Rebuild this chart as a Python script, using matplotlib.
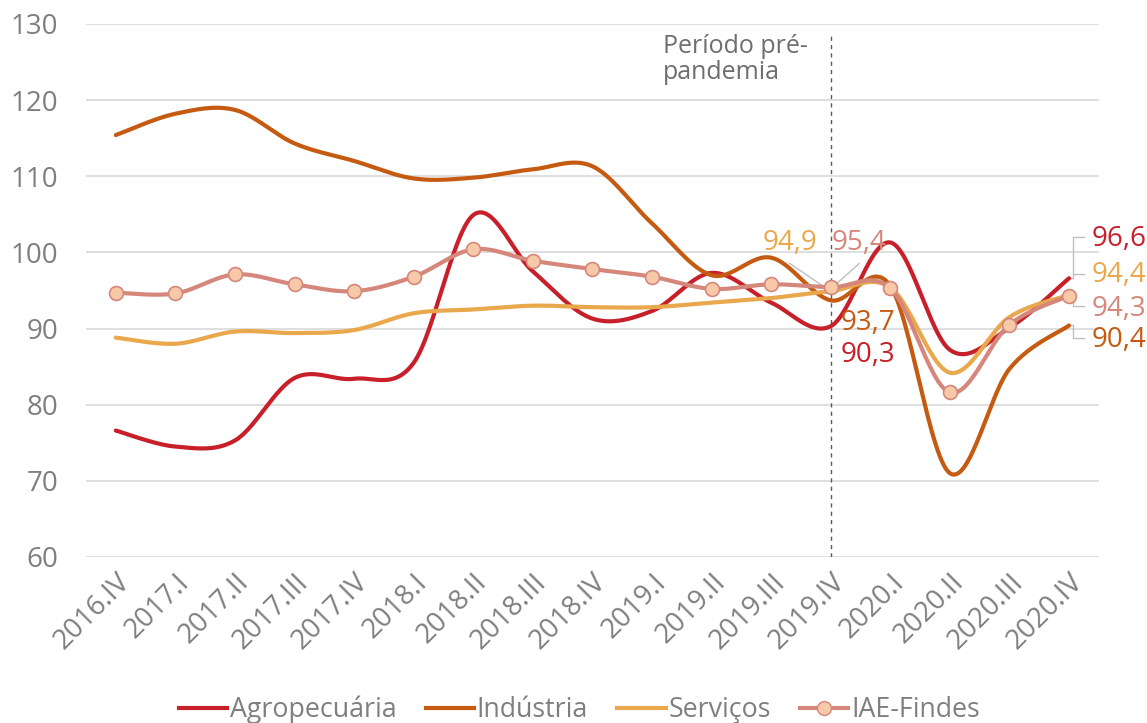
import numpy as np
import matplotlib.pyplot as plt
from matplotlib.lines import Line2D

plt.rcParams['font.family'] = ['Open Sans', 'DejaVu Sans']

# Dados
trimestres = ["2016.IV", "2017.I", "2017.II", "2017.III", "2017.IV", "2018.I", "2018.II",
              "2018.III", "2018.IV", "2019.I", "2019.II", "2019.III", "2019.IV", "2020.I",
              "2020.II", "2020.III", "2020.IV"]
agropecuaria = [76.6, 74.5, 75.3, 83.5, 83.4, 85.5, 104.9, 97.5, 91.3, 92.3, 97.3, 93.4,
                90.3, 101.3, 87.2, 90.1, 96.6]
industria = [115.4, 118.2, 118.7, 114.3, 112.0, 109.7, 109.8, 110.9, 111.3, 103.8, 97.0,
             99.3, 93.7, 95.6, 71.0, 84.7, 90.4]
servicos = [88.8, 88.0, 89.6, 89.4, 89.8, 92.0, 92.5, 93.0, 92.8, 92.8, 93.4, 94.0,
            94.9, 95.4, 84.2, 91.5, 94.4]
iae_findes = [94.7, 94.6, 97.1, 95.8, 94.9, 96.8, 100.4, 98.9, 97.8, 96.8, 95.2, 95.8,
              95.4, 95.3, 81.6, 90.5, 94.3]

c_agro = "#C8202A"
c_ind = "#C55A11"
c_serv = "#E9A84C"
c_iae = "#D4877A"
c_mark = "#F8C9A8"
cinza = "#7F7F7F"
guia = "#BFBFBF"
fs = 20


def suavizar(y, n=30):
    # curva suave estilo Excel (Bezier com pontos de controle 1/6)
    y = np.asarray(y, dtype=float)
    x = np.arange(len(y), dtype=float)
    pts = np.column_stack([x, y])
    out = []
    for i in range(len(pts) - 1):
        p0 = pts[i - 1] if i > 0 else pts[i]
        p1 = pts[i]
        p2 = pts[i + 1]
        p3 = pts[i + 2] if i + 2 < len(pts) else pts[i + 1]
        c1 = p1 + (p2 - p0) / 6
        c2 = p2 - (p3 - p1) / 6
        t = np.linspace(0, 1, n)[:, None]
        seg = ((1 - t) ** 3) * p1 + 3 * ((1 - t) ** 2) * t * c1 + 3 * (1 - t) * t ** 2 * c2 + t ** 3 * p2
        out.append(seg if i == 0 else seg[1:])
    out = np.vstack(out)
    return out[:, 0], out[:, 1]


fig = plt.figure(figsize=(11.47, 7.23), dpi=100)
ax = fig.add_axes([0.075, 0.2296, 0.883, 0.7374])

xs = np.arange(len(trimestres))
for serie, cor in [(agropecuaria, c_agro), (industria, c_ind), (servicos, c_serv), (iae_findes, c_iae)]:
    sx, sy = suavizar(serie)
    ax.plot(sx, sy, color=cor, lw=3, solid_capstyle='round', zorder=3)
ax.plot(xs, iae_findes, ls='none', marker='o', ms=10, mfc=c_mark, mec=c_iae, mew=1.2, zorder=4)

ax.set_xlim(-0.5, len(trimestres) - 0.5)
ax.set_ylim(60, 130)
ax.set_yticks(np.arange(60, 131, 10))
ax.set_xticks(xs)
ax.set_xticklabels(trimestres, rotation=45, ha='right', rotation_mode='anchor')
ax.tick_params(axis='both', length=0, labelsize=fs, colors=cinza)
ax.tick_params(axis='y', pad=20)
ax.tick_params(axis='x', pad=8)
ax.grid(axis='y', color='#D9D9D9', lw=1.2)
ax.set_axisbelow(True)
for s in ax.spines.values():
    s.set_visible(False)

# linha pré-pandemia
ax.plot([12, 12], [60, 128.5], color='#595959', lw=1, ls=(0, (3, 3)), zorder=2)
ax.text(9.18, 128.7, "Período pré-\npandemia", fontsize=18, color='#6E6E6E', va='top', ha='left',
        linespacing=1.05)

# rótulos
ax.text(11.31, 101.2, "94,9", color=c_serv, fontsize=fs, ha='center', va='center')
ax.text(12.48, 101.2, "95,4", color=c_iae, fontsize=fs, ha='center', va='center')
ax.plot([11.31, 11.92], [98.55, 95.3], color=guia, lw=1, zorder=2)
ax.plot([12.48, 12.03], [98.55, 95.4], color=guia, lw=1, zorder=2)
ax.text(12.62, 90.7, "93,7", color=c_ind, fontsize=fs, ha='center', va='center')
ax.text(12.62, 86.5, "90,3", color=c_agro, fontsize=fs, ha='center', va='center')

dx = 16
tx = dx + 0.38
ax.text(tx, 101.7, "96,6", color=c_agro, fontsize=fs, ha='left', va='center')
ax.text(tx, 97.0, "94,4", color=c_serv, fontsize=fs, ha='left', va='center')
ax.text(tx, 92.6, "94,3", color=c_iae, fontsize=fs, ha='left', va='center')
ax.text(tx, 88.5, "90,4", color=c_ind, fontsize=fs, ha='left', va='center')
ax.plot([dx, dx + 0.06, dx + 0.06, dx + 0.25], [96.6, 96.6, 102.0, 102.0], color=guia, lw=1, zorder=2)
ax.plot([dx + 0.06, dx + 0.25], [97.1, 97.1], color=guia, lw=1, zorder=2)
ax.plot([dx, dx + 0.06, dx + 0.06, dx + 0.25], [94.3, 94.3, 92.9, 92.9], color=guia, lw=1, zorder=2)
ax.plot([dx, dx + 0.06, dx + 0.06, dx + 0.25], [90.4, 90.4, 88.8, 88.8], color=guia, lw=1, zorder=2)

handles = [
    Line2D([], [], color=c_agro, lw=3),
    Line2D([], [], color=c_ind, lw=3),
    Line2D([], [], color=c_serv, lw=3),
    Line2D([], [], color=c_iae, lw=3, marker='o', ms=10, mfc=c_mark, mec=c_iae),
]
leg = fig.legend(handles, ["Agropecuária", "Indústria", "Serviços", "IAE-Findes"],
                 loc='center', bbox_to_anchor=(0.505, 0.018), ncol=4, frameon=False,
                 fontsize=19.3, handlelength=1.8, handletextpad=0.1, columnspacing=1.1)
for t in leg.get_texts():
    t.set_color(cinza)

fig.savefig("out.png", dpi=100)
